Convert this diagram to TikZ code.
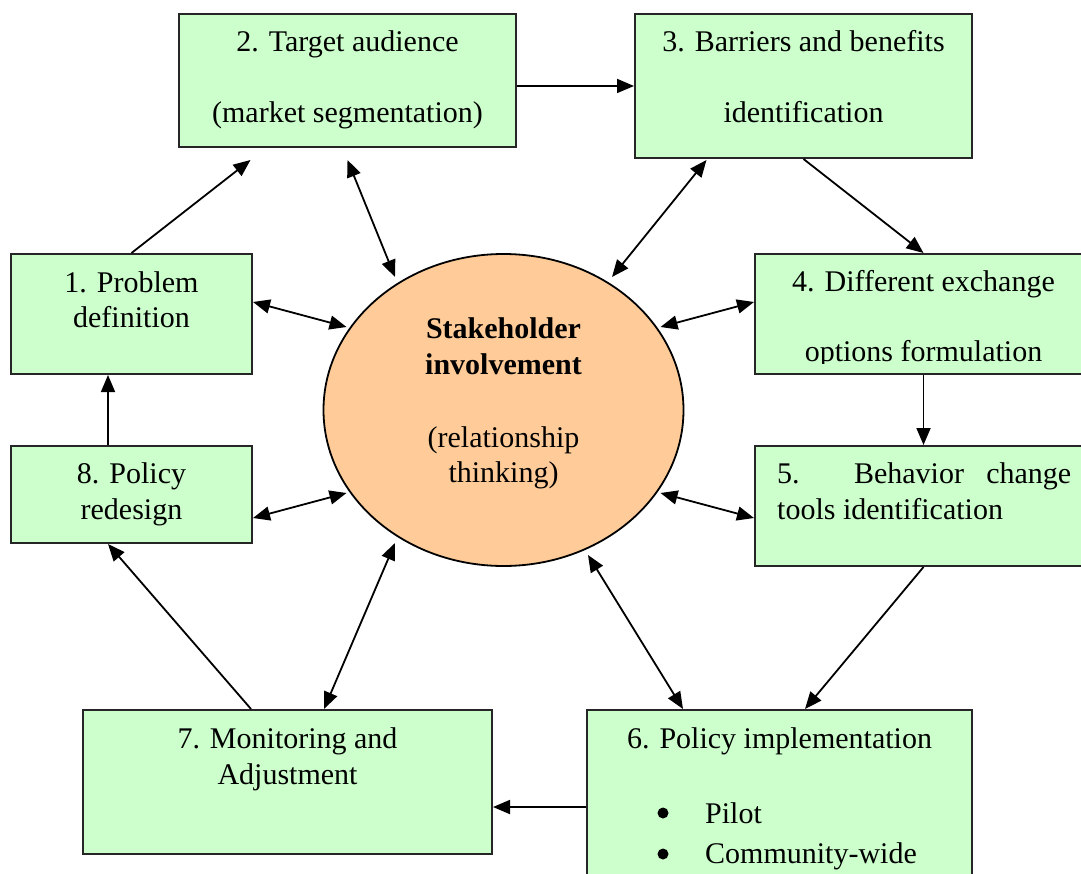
\documentclass[tikz,border=0pt]{standalone}
\usepackage{fontspec}
\setmainfont{Liberation Serif}
\usetikzlibrary{arrows.meta,calc,shapes.geometric}
\definecolor{boxgreen}{HTML}{CCFFCC}
\definecolor{ellorange}{HTML}{FFCC99}
\begin{document}
\begin{tikzpicture}[x=1pt,y=-1pt,
 box/.style={draw=black!85,line width=2pt,fill=boxgreen,rectangle,inner sep=0pt},
 txt/.style={font=\fontsize{30}{36}\selectfont,inner sep=0pt,anchor=base},
 btxt/.style={txt,font=\fontsize{30}{36}\selectfont\bfseries},
 bul/.style={circle,fill=black,inner sep=0pt,minimum size=11pt},
 arr/.style={line width=1.8pt,-{Triangle[length=17pt,width=14pt]}},
 darr/.style={line width=1.8pt,{Triangle[length=17pt,width=14pt]}-{Triangle[length=17pt,width=14pt]}}]
\useasboundingbox (0,0) rectangle (1081,874);
% boxes
\node[box,minimum width=241pt,minimum height=120pt] (b1) at (131.5,314) {};
\node[box,minimum width=337pt,minimum height=133pt] (b2) at (347.5,80.5) {};
\node[box,minimum width=337pt,minimum height=144pt] (b3) at (803.5,86) {};
\node[box,minimum width=337pt,minimum height=120pt] (b4) at (923.5,314) {};
\node[box,minimum width=337pt,minimum height=120pt] (b5) at (923.5,506) {};
\node[box,minimum width=385pt,minimum height=190pt] (b6) at (779.5,805) {};
\node[box,minimum width=409pt,minimum height=144pt] (b7) at (287.5,782) {};
\node[box,minimum width=241pt,minimum height=97pt] (b8) at (131.5,494.5) {};
\node[ellipse,draw,line width=1.8pt,fill=ellorange,minimum width=360pt,minimum height=312pt,inner sep=0pt] (E) at (503.5,410) {};
% texts
\node[txt] (t1a) at (131.5,293) {1. Problem};
\node[txt] (t1b) at (131.5,328) {definition};
\node[txt] (t2a) at (347.5,52) {2. Target audience};
\node[txt] (t2b) at (347.5,123) {(market segmentation)};
\node[txt] (t3a) at (803.5,52) {3. Barriers and benefits};
\node[txt] (t3b) at (803.5,123) {identification};
\node[txt] (t4a) at (923.5,292) {4. Different exchange};
\begin{scope}
\clip (755,254) rectangle (1081,363);
\node[txt] (t4b) at (923.5,362) {options formulation};
\end{scope}
\node[txt,anchor=base west] (t5a) at (777,483) {\makebox[294pt][s]{5. Behavior change}};
\node[txt,anchor=base west] (t5b) at (777,519) {tools identification};
\node[txt] (t6a) at (779.5,748) {6. Policy implementation};
\node[bul] (t6b) at (663,813) {};
\node[txt,anchor=base west] (t6c) at (705,823) {Pilot};
\node[bul] (t6d) at (663,854) {};
\node[txt,anchor=base west] (t6e) at (705,863) {Community-wide};
\node[txt] (t7a) at (287.5,748) {7. Monitoring and};
\node[txt] (t7b) at (287.5,784) {Adjustment};
\node[txt] (t8a) at (131.5,483) {8. Policy};
\node[txt] (t8b) at (131.5,519) {redesign};
\node[btxt] (tea) at (503.5,338) {Stakeholder};
\node[btxt] (teb) at (503.5,374) {involvement};
\node[txt] (tec) at (503.5,447) {(relationship};
\node[txt] (ted) at (503.5,482) {thinking)};
% connectors
\draw[arr] (b1.north) -- ($(b2.south)+(-97,12)$);
\draw[darr] ($(b2.south)+(0,12)$) -- ($(E.center)+(-108.5,-133)$);
\draw[arr] ($(b2.east)+(0,5.5)$) -- (b3.west);
\draw[darr] ($(b3.south)+(-97,1)$) -- ($(E.center)+(108.5,-133)$);
\draw[arr] (b3.south) -- (b4.north);
\draw[darr] ($(b4.west)+(0,-12)$) -- ($(E.center)+(157,-83)$);
\draw[arr] (b4.south) -- (b5.north);
\draw[darr] ($(b5.west)+(0,12)$) -- ($(E.center)+(157,83)$);
\draw[arr] (b5.south) -- ($(b6.north)+(25.5,0)$);
\draw[darr] ($(E.center)+(84.5,145)$) -- ($(b6.north)+(-96.5,0)$);
\draw[arr] ($(b6.west)+(0,2)$) -- ($(b7.east)+(0,25)$);
\draw[darr] ($(b7.north)+(36.5,0)$) -- ($(E.center)+(-108.5,133)$);
\draw[arr] ($(b7.north)+(-36.5,0)$) -- ($(b8.south)+(-23.5,0)$);
\draw[arr] ($(b8.north)+(-23.5,0)$) -- ($(b1.south)+(-23.5,0)$);
\draw[darr] ($(b1.east)+(0,-12)$) -- ($(E.center)+(-157,-83)$);
\draw[darr] ($(b8.east)+(0,23.5)$) -- ($(E.center)+(-157,83)$);
\end{tikzpicture}
\end{document}
